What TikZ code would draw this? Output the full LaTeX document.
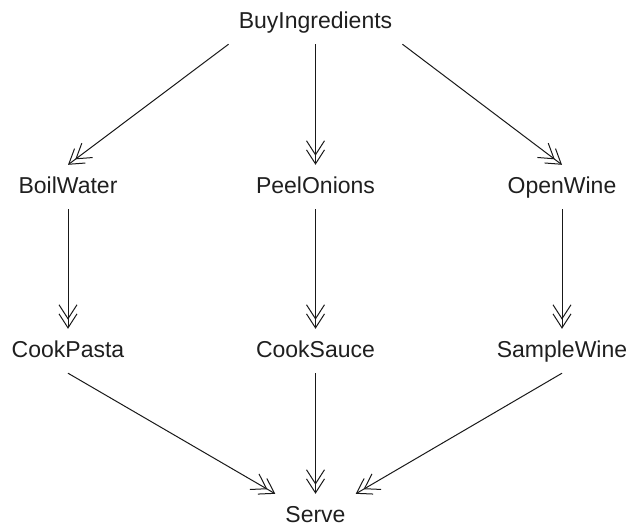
\documentclass[tikz,border=0pt]{standalone}
\usepackage{fontspec}
\setmainfont{Liberation Sans}
\usetikzlibrary{arrows.meta}
\begin{document}
\begin{tikzpicture}[x=1pt,y=-1pt,
  task/.style={anchor=base,inner xsep=10pt,inner ysep=11pt,
    text height=17pt,text depth=5pt,text=black!88,
    font=\fontsize{23}{27}\selectfont},
  flow/.style={line width=1pt,draw=black!90,
    -{Straight Barb[length=14pt,width=18pt,sep=-6.3pt]Straight Barb[length=14pt,width=18pt]}}]
\useasboundingbox (0,0) rectangle (630,530);
% tasks
\node[task] (buy)    at (315.5,28)  {BuyIngredients};
\node[task] (boil)   at (68,193)    {BoilWater};
\node[task] (peel)   at (315.5,193) {PeelOnions};
\node[task] (open)   at (562,193)   {OpenWine};
\node[task] (pasta)  at (68,357)    {CookPasta};
\node[task] (sauce)  at (315.5,357) {CookSauce};
\node[task] (sample) at (562,357)   {SampleWine};
\node[task] (serve)  at (315.5,522) {Serve};
% dependencies
\draw[flow] (buy.south west) -- (boil.north);
\draw[flow] (buy.south) -- (peel.north);
\draw[flow] (buy.south east) -- (open.north);
\draw[flow] (boil.south) -- (pasta.north);
\draw[flow] (peel.south) -- (sauce.north);
\draw[flow] (open.south) -- (sample.north);
\draw[flow] (pasta.south) -- (serve.north west);
\draw[flow] (sauce.south) -- (serve.north);
\draw[flow] (sample.south) -- (serve.north east);
\end{tikzpicture}
\end{document}
